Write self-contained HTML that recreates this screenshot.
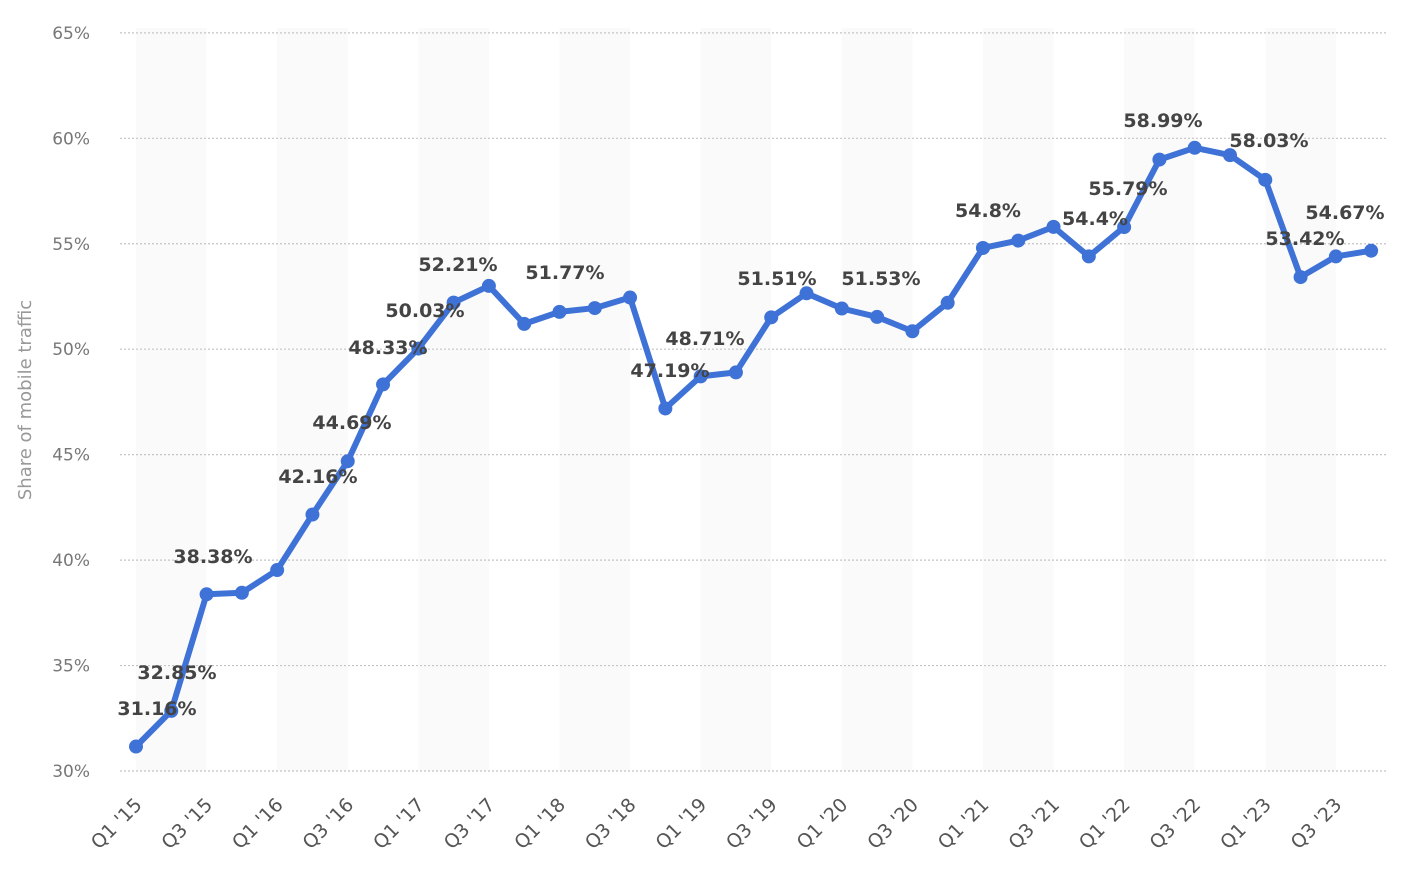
<!DOCTYPE html>
<html><head><meta charset="utf-8"><style>
html,body{margin:0;padding:0;background:#fff;}
svg{display:block;font-family:"DejaVu Sans","Liberation Sans",sans-serif;}
</style></head><body>
<svg width="1410" height="876" viewBox="0 0 1410 876" xmlns="http://www.w3.org/2000/svg">
<g id="bands" fill="#fafafa"></g>
<g id="grid" stroke="#c4c4c4" stroke-width="1.2" stroke-dasharray="2,2"></g>
<g id="ylab" fill="#777" font-size="17" text-anchor="end"></g>
<g id="xlab" fill="#555" font-size="19" text-anchor="end"></g>
<text x="31" y="400" fill="#999" font-size="18" text-anchor="middle" transform="rotate(-90 31 400)">Share of mobile traffic</text>
<polyline id="line" fill="none" stroke="#3f72d6" stroke-width="6" stroke-linejoin="round" stroke-linecap="round"/>
<g id="dots" fill="#3f72d6"></g>
<g id="lbl" fill="#444" font-size="19" font-weight="bold" text-anchor="middle"></g>
</svg>
<script>
var NS="http://www.w3.org/2000/svg";
function el(t,a,p,txt){var e=document.createElementNS(NS,t);for(var k in a)e.setAttribute(k,a[k]);if(txt!=null)e.textContent=txt;document.getElementById(p).appendChild(e);return e;}
var v=[31.16,32.85,38.38,38.45,39.53,42.16,44.69,48.33,50.03,52.21,53.0,51.2,51.77,51.95,52.45,47.19,48.71,48.9,51.51,52.65,51.93,51.53,50.85,52.2,54.8,55.15,55.8,54.4,55.79,58.99,59.55,59.2,58.03,53.42,54.4,54.67];
function X(i){return 136+i*35.29;}
function Y(p){return 771-(p-30)*21.09;}
for(var i=0;i<36;i+=4){el("rect",{x:X(i),y:28,width:70.6,height:743},"bands");}
for(var p=30;p<=65;p+=5){var y=Y(p);el("line",{x1:120,x2:1388,y1:y,y2:y},"grid");el("text",{x:90,y:y+6},"ylab",p+"%");}
var pts=[];
for(var i=0;i<36;i++){pts.push(X(i)+","+Y(v[i]));el("circle",{cx:X(i),cy:Y(v[i]),r:7},"dots");}
document.getElementById("line").setAttribute("points",pts.join(" "));
var yrs=['15','16','17','18','19','20','21','22','23'];
for(var i=0;i<36;i+=2){var q=(i%4==0)?"Q1":"Q3";var yr=yrs[Math.floor(i/4)];var x=X(i)+7,y=806;
el("text",{x:x,y:y,transform:"rotate(-45 "+x+" "+y+")"},"xlab",q+" '"+yr);}
var L=[["31.16%",157,715],["32.85%",177,679],["38.38%",213,563],["42.16%",318,483],["44.69%",352,429],["48.33%",388,354],["50.03%",425,317],["52.21%",458,271],["51.77%",565,279],["47.19%",670,377],["48.71%",705,345],["51.51%",777,285],["51.53%",881,285],["54.8%",988,217],["54.4%",1095,225],["55.79%",1128,195],["58.99%",1163,127],["58.03%",1269,147],["53.42%",1305,245],["54.67%",1345,219]];
L.forEach(function(a){el("text",{x:a[1],y:a[2]},"lbl",a[0]);});
</script>
</body></html>
